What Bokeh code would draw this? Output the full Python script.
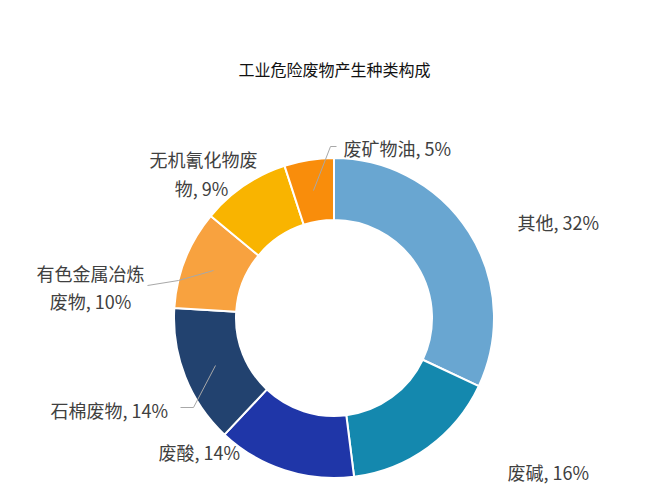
import numpy as np
from bokeh.plotting import figure
from bokeh.models import Range1d, ColumnDataSource
from bokeh.core.properties import value
from bokeh.embed import file_html
from bokeh.resources import INLINE

# ---- data ----
categories = ["其他", "废碱", "废酸", "石棉废物", "有色金属冶炼废物", "无机氰化物废物", "废矿物油"]
shares = [32, 16, 14, 14, 10, 9, 5]
colors = ["#69A6D1", "#1488AE", "#1F36A8", "#22426F", "#F8A23F", "#F9B400", "#F98D0B"]
label_lines = [["其他, 32%"], ["废碱, 16%"], ["废酸, 14%"], ["石棉废物, 14%"],
               ["有色金属冶炼", "废物, 10%"], ["无机氰化物废", "物, 9%"], ["废矿物油, 5%"]]
title_text = "工业危险废物产生种类构成"

W, H = 640, 487

def px(x):
    return x

def py(y):
    return H - y

p = figure(width=W, height=H, output_backend="svg", toolbar_location=None,
           x_range=Range1d(0, W), y_range=Range1d(0, H), min_border=0)
p.axis.visible = False
p.grid.visible = False
p.outline_line_color = None
p.background_fill_color = "white"

# wedges
vals = np.array(shares, dtype=float)
frac = vals / vals.sum()
cum = np.concatenate([[0], np.cumsum(frac)])
start = np.pi / 2 - 2 * np.pi * cum[:-1]
end = np.pi / 2 - 2 * np.pi * cum[1:]
cx, cy = px(333.5), py(317.5)
src = ColumnDataSource(dict(start=start, end=end, color=colors, cat=categories))
p.annular_wedge(x=cx, y=cy, inner_radius=98, outer_radius=160,
                start_angle="start", end_angle="end", direction="clock",
                fill_color="color", line_color="white", line_width=2, source=src)

# leader lines (page pixel coordinates)
leaders = [
    [(313, 190), (330, 146), (336, 146)],
    [(215, 365), (193, 407), (180, 407)],
    [(213, 270), (178, 280), (147, 285)],
]
for pts in leaders:
    p.line([px(a) for a, b in pts], [py(b) for a, b in pts], line_color="#A8A8A8", line_width=1)

# labels: (x, y, align) per line, page pixel coordinates
label_pos = [
    [(517, 221, "left")],
    [(507, 471, "left")],
    [(158, 451, "left")],
    [(50, 409, "left")],
    [(90, 272, "center"), (90, 300, "center")],
    [(203, 158, "center"), (201, 187, "center")],
    [(343, 147, "left")],
]
for lines, poss in zip(label_lines, label_pos):
    for t, (x, y, al) in zip(lines, poss):
        p.text(x=[px(x)], y=[py(y)], text=[t], text_font=value("Noto Sans CJK SC"),
               text_font_size="18px", text_color="#404040", text_align=al,
               text_baseline="middle")

p.text(x=[px(334)], y=[py(68)], text=[title_text], text_font=value("Noto Sans CJK SC"),
       text_font_size="16px", text_color="#111111", text_align="center",
       text_baseline="middle")

open("out.html", "w").write(file_html(p, INLINE))
